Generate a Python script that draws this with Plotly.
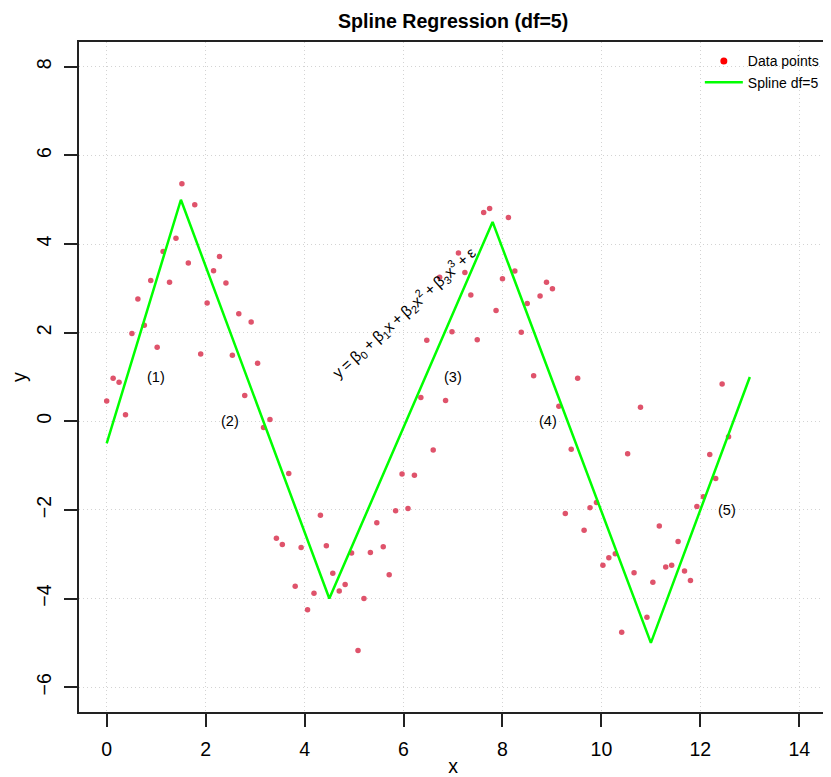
import plotly.graph_objects as go

# Data points (x evenly spaced 0..4*pi, 100 points)
x_data = [0.00, 0.13, 0.25, 0.38, 0.51, 0.63, 0.76, 0.89, 1.02, 1.14,
          1.27, 1.40, 1.52, 1.65, 1.78, 1.90, 2.03, 2.16, 2.28, 2.41,
          2.54, 2.67, 2.79, 2.92, 3.05, 3.17, 3.30, 3.43, 3.55, 3.68,
          3.81, 3.93, 4.06, 4.19, 4.32, 4.44, 4.57, 4.70, 4.82, 4.95,
          5.08, 5.20, 5.33, 5.46, 5.59, 5.71, 5.84, 5.97, 6.09, 6.22,
          6.35, 6.47, 6.60, 6.73, 6.85, 6.98, 7.11, 7.24, 7.36, 7.49,
          7.62, 7.74, 7.87, 8.00, 8.12, 8.25, 8.38, 8.50, 8.63, 8.76,
          8.89, 9.01, 9.14, 9.27, 9.39, 9.52, 9.65, 9.77, 9.90, 10.03,
          10.15, 10.28, 10.41, 10.53, 10.66, 10.79, 10.92, 11.04, 11.17, 11.30,
          11.42, 11.55, 11.68, 11.80, 11.93, 12.06, 12.19, 12.31, 12.44, 12.57]
y_data = [0.46, 0.97, 0.88, 0.15, 1.98, 2.76, 2.17, 3.18, 1.67, 3.83,
          3.14, 4.13, 5.36, 3.57, 4.89, 1.52, 2.67, 3.40, 3.72, 3.12,
          1.49, 2.43, 0.58, 2.24, 1.31, -0.14, 0.04, -2.64, -2.78, -1.18,
          -3.72, -2.85, -4.25, -3.88, -2.12, -2.81, -3.43, -3.83, -3.68, -2.97,
          -5.17, -4.00, -2.96, -2.29, -2.83, -3.46, -2.02, -1.19, -1.97, -1.22,
          0.54, 1.83, -0.65, 3.25, 0.47, 2.02, 3.80, 3.36, 2.85, 1.84,
          4.71, 4.80, 2.50, 3.22, 4.60, 3.39, 2.01, 2.66, 1.03, 2.83,
          3.14, 2.99, 0.34, -2.08, -0.63, 0.97, -2.46, -1.95, -1.83, -3.25,
          -3.08, -2.99, -4.76, -0.73, -3.42, 0.32, -4.42, -3.63, -2.36, -3.29,
          -3.25, -2.71, -3.38, -3.59, -1.92, -1.70, -0.75, -1.29, 0.84, -0.35]

# Spline fit (piecewise linear through knots)
x_spline = [0.0, 1.5, 4.5, 7.8, 11.0, 13.0]
y_spline = [-0.5, 5.0, -4.0, 4.5, -5.0, 1.0]

# Region labels
label_x = [1.0, 2.5, 7.0, 8.92, 12.53]
label_y = [1.0, 0.0, 1.0, 0.0, -2.0]
label_text = ["(1)", "(2)", "(3)", "(4)", "(5)"]

x_ticks = [0, 2, 4, 6, 8, 10, 12, 14]
y_ticks = [-6, -4, -2, 0, 2, 4, 6, 8]

FONT = "Liberation Sans, Arial, sans-serif"
S = "\u2009"  # thin space around operators

fig = go.Figure()
fig.add_trace(go.Scatter(x=x_data, y=y_data, mode="markers",
                         marker=dict(color="#DF536B", size=5.5),
                         showlegend=False, hoverinfo="x+y"))
fig.add_trace(go.Scatter(x=x_spline, y=y_spline, mode="lines",
                         line=dict(color="#00FF00", width=2.5),
                         showlegend=False))
# legend entries
fig.add_trace(go.Scatter(x=[None], y=[None], mode="markers", name="Data points",
                         marker=dict(color="#FF0000", size=7)))
fig.add_trace(go.Scatter(x=[None], y=[None], mode="lines", name="Spline df=5",
                         line=dict(color="#00FF00", width=2.5)))

annotations = []
for lx, ly, lt in zip(label_x, label_y, label_text):
    annotations.append(dict(x=lx, y=ly, text=lt, showarrow=False,
                            font=dict(family=FONT, size=14.5, color="black"),
                            xanchor="center", yanchor="middle"))
formula = (f"y{S}={S}β<sub>0</sub>{S}+{S}β<sub>1</sub>x{S}+{S}β<sub>2</sub>x<sup>2</sup>"
           f"{S}+{S}β<sub>3</sub>x<sup>3</sup>{S}+{S}ε")
annotations.append(dict(x=6.0, y=2.45, text=formula,
                        textangle=-42, showarrow=False,
                        font=dict(family=FONT, size=15.5, color="black"),
                        xanchor="center", yanchor="middle"))
annotations.append(dict(x=0.5, y=1, xref="paper", yref="paper", yshift=21,
                        text="<b>Spline Regression (df=5)</b>", showarrow=False,
                        font=dict(family=FONT, size=19.6, color="black"),
                        xanchor="center", yanchor="middle"))

axis_common = dict(showline=True, linecolor="#222222", linewidth=1.6, mirror=True,
                   ticks="outside", ticklen=13, tickcolor="#222222", tickwidth=1.6,
                   showgrid=True, gridcolor="#D3D3D3", griddash="1px,3px", gridwidth=1,
                   zeroline=False, automargin=False,
                   tickfont=dict(family=FONT, size=19.5, color="black"))

# page body adds an 8px margin, so the figure is sized to fit the window
fig.update_layout(
    width=823, height=769,
    margin=dict(l=71, r=4, t=34, b=65, autoexpand=False),
    paper_bgcolor="white", plot_bgcolor="white",
    font=dict(family=FONT, color="black"),
    xaxis=dict(range=[-0.56, 14.56], tickvals=x_ticks, ticklabelstandoff=6, **axis_common,
               title=dict(text="x", font=dict(family=FONT, size=19.5), standoff=2)),
    yaxis=dict(range=[-6.56, 8.56], tickvals=y_ticks, tickangle=-90, ticklabelstandoff=5,
               **axis_common,
               title=dict(text="y", font=dict(family=FONT, size=19.5), standoff=4)),
    legend=dict(x=0.83, y=0.995, xanchor="left", yanchor="top",
                bgcolor="rgba(0,0,0,0)", font=dict(family=FONT, size=14),
                tracegroupgap=0, itemwidth=38),
    annotations=annotations,
)

fig.write_html("out.html")
